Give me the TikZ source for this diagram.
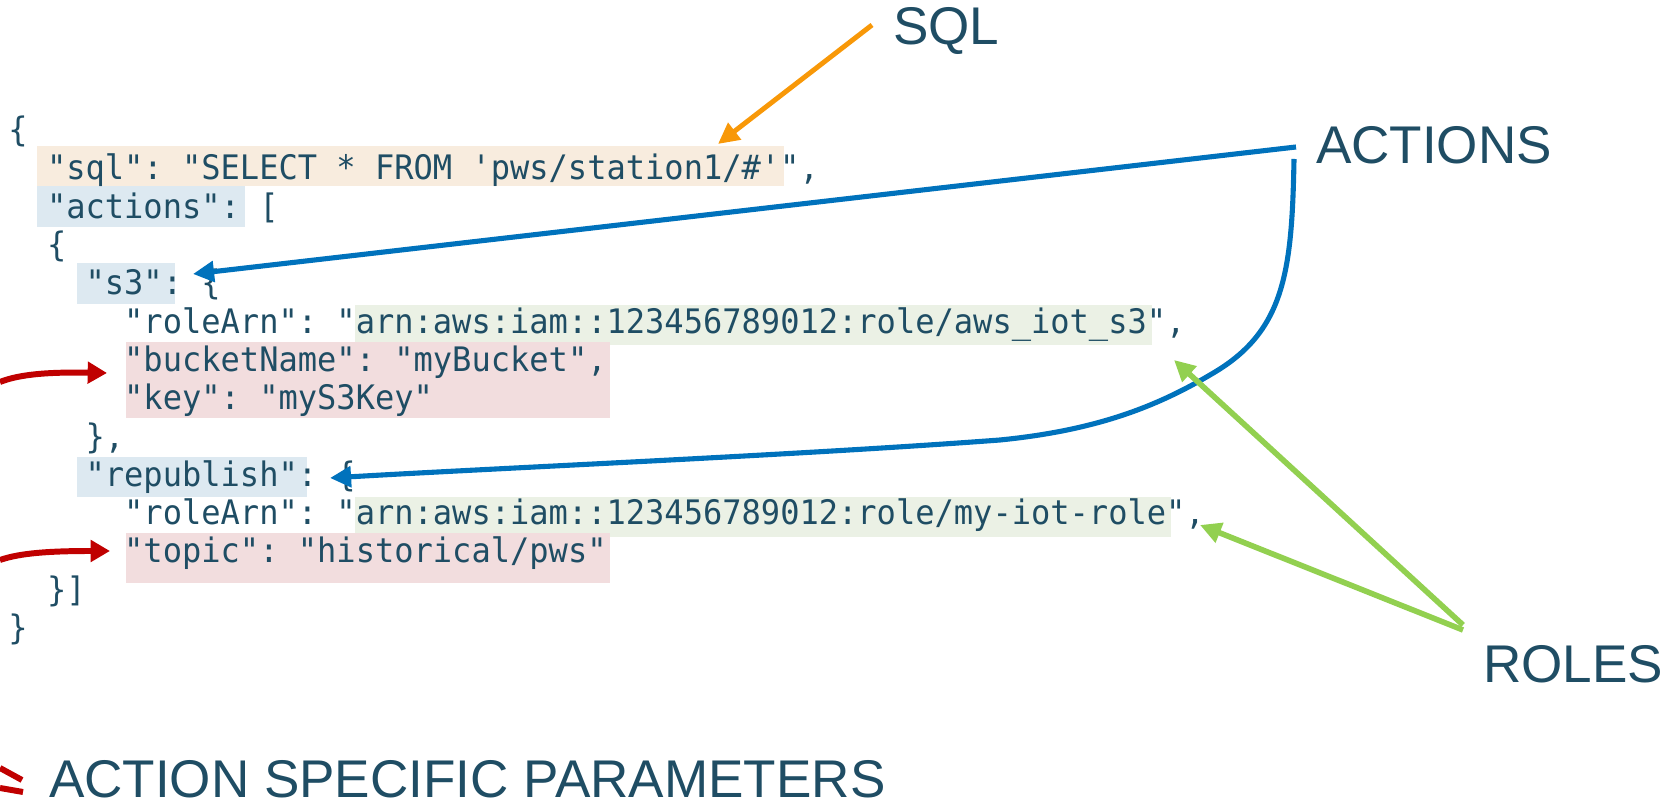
\documentclass[tikz,border=0pt]{standalone}
\usepackage{fontspec}
\setmainfont{Liberation Sans}
\setmonofont[FakeStretch=0.95]{DejaVu Sans Mono}
\usetikzlibrary{arrows.meta}

\definecolor{ink}{RGB}{31,77,100}
\definecolor{hlsql}{RGB}{248,236,222}
\definecolor{hlkey}{RGB}{221,233,241}
\definecolor{hlrole}{RGB}{235,241,229}
\definecolor{hlparam}{RGB}{242,221,222}
\definecolor{sqlorange}{RGB}{248,152,8}
\definecolor{actblue}{RGB}{0,114,188}
\definecolor{rolegreen}{RGB}{146,208,80}
\definecolor{parred}{RGB}{192,0,0}

% one line of the JSON listing: name, line number, column, text
\newcommand\codeline[4]{\node[codetxt] (#1) at ({8.4+19.3*#3},{141.7+38.3*#2}) {#4};}

\begin{document}
\begin{tikzpicture}[x=0.1mm,y=-0.1mm,
  codetxt/.style={anchor=base west, inner sep=0, outer sep=0, text=ink,
    font=\ttfamily\fontsize{9.6pt}{11pt}\selectfont},
  biglabel/.style={anchor=base west, inner sep=0, outer sep=0, text=ink,
    font=\fontsize{15.1pt}{18pt}\selectfont},
  tipped/.style={-{Triangle[length=6pt,width=5.8pt]}},
  sqlarrow/.style={tipped, draw=sqlorange, line width=1.4pt},
  actarrow/.style={tipped, draw=actblue, line width=1.45pt},
  rolearrow/.style={tipped, draw=rolegreen, line width=1.6pt},
  pararrow/.style={-{Triangle[length=5.5pt,width=6pt]}, draw=parred, line width=1.7pt},
]
\useasboundingbox (0,0) rectangle (1673,806);

% highlight boxes behind the listing
\fill[hlsql]   (37,146) rectangle (784,186);
\fill[hlkey]   (37,186) rectangle (245,227);
\fill[hlkey]   (77,263) rectangle (175,304);
\fill[hlrole]  (355,305) rectangle (1152,345);
\fill[hlparam] (126,342) rectangle (610,418);
\fill[hlkey]   (77,457) rectangle (307,497);
\fill[hlrole]  (355,497) rectangle (1171,537);
\fill[hlparam] (126,533) rectangle (610,583);

% the rule document
\codeline{l0}{0}{0}{\{}
\codeline{l1}{1}{2}{"sql": "SELECT * FROM 'pws/station1/\#'",}
\codeline{l2}{2}{2}{"actions": [}
\codeline{l3}{3}{2}{\{}
\codeline{l4}{4}{4}{"s3": \{}
\codeline{l5}{5}{6}{"roleArn": "arn:aws:iam::123456789012:role/aws\_iot\_s3",}
\codeline{l6}{6}{6}{"bucketName": "myBucket",}
\codeline{l7}{7}{6}{"key": "myS3Key"}
\codeline{l8}{8}{4}{\},}
\codeline{l9}{9}{4}{"republish": \{}
\codeline{l10}{10}{6}{"roleArn": "arn:aws:iam::123456789012:role/my-iot-role",}
\codeline{l11}{11}{6}{"topic": "historical/pws"}
\codeline{l12}{12}{2}{\}]}
\codeline{l13}{13}{0}{\}}

% callout labels
\node[biglabel] (sql) at (893,45) {SQL};
\node[biglabel] (actions) at (1316,164) {ACTIONS};
\node[biglabel] (roles) at (1483,683) {ROLES};
\node[biglabel] (params) at (49,798) {ACTION SPECIFIC PARAMETERS};

% connector ends
\coordinate (sqlTail) at (872,25);
\coordinate (sqlTip) at (718,144);
\coordinate (actTailA) at (1296,147);
\coordinate (s3Tip) at (193,274);
\coordinate (actTailB) at (1294,159);
\coordinate (repTip) at (330,478);
\coordinate (roleTailA) at (1463,625);
\coordinate (roleTailB) at (1463,630);
\coordinate (roleTipA) at (1174,360);
\coordinate (roleTipB) at (1200,525);
\coordinate (parTailA) at (0,382);
\coordinate (parTipA) at (107,373);
\coordinate (parTailB) at (0,560);
\coordinate (parTipB) at (110,551);

% arrows
\draw[sqlarrow] (sqlTail) -- (sqlTip);
\draw[actarrow] (actTailA) -- (s3Tip);
\draw[actarrow] (actTailB) .. controls (1292,270) and (1285,330) .. (1215,372)
  .. controls (1160,405) and (1100,430) .. (1000,440)
  .. controls (800,455) and (500,468) .. (repTip);
\draw[rolearrow] (roleTailA) -- (roleTipA);
\draw[rolearrow] (roleTailB) -- (roleTipB);
\draw[pararrow] (parTailA) .. controls (20,374) and (50,372) .. (parTipA);
\draw[pararrow] (parTailB) .. controls (20,553) and (50,551) .. (parTipB);

% legend strokes beside the bottom caption
\coordinate (legA1) at (0,768);
\coordinate (legA2) at (22,780);
\coordinate (legB1) at (0,788);
\coordinate (legB2) at (23,792);
\draw[parred, line width=1.7pt] (legA1) -- (legA2);
\draw[parred, line width=1.7pt] (legB1) -- (legB2);
\end{tikzpicture}
\end{document}
